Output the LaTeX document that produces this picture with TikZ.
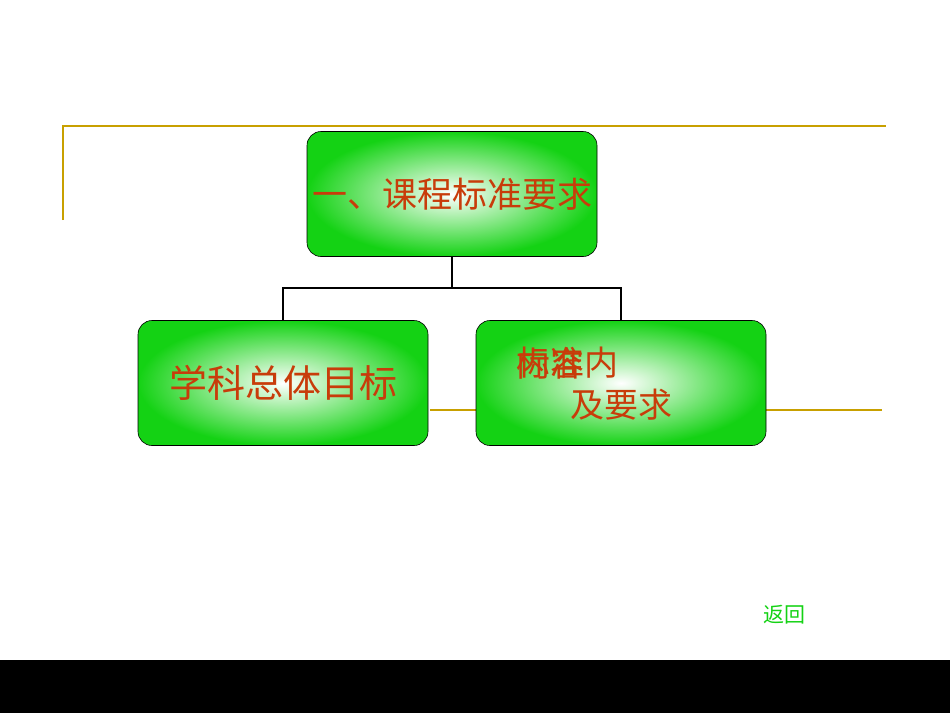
\documentclass[tikz,border=0pt]{standalone}
\usepackage{fontspec}
\newfontfamily\cjk{Noto Sans CJK SC}
\definecolor{gold}{RGB}{200,160,0}
\definecolor{txt}{RGB}{200,60,10}
\definecolor{gr}{RGB}{20,210,20}
\begin{document}
\begin{tikzpicture}[x=1pt,y=-1pt,
  box/.style={draw=black,line width=0.6pt,rounded corners=14pt,minimum width=290pt,minimum height=125pt,inner color=white,outer color=gr,text=txt,align=center,inner sep=0pt},
  rt/.style={text=txt,font=\cjk\fontsize{34}{40}\selectfont,inner sep=0},
  gl/.style={gold,line width=2pt},
  conn/.style={line width=1.8pt}]
\useasboundingbox (0,0) rectangle (950,713);
\fill[black] (0,660) rectangle (950,713);
\draw[gl] (63,220) -- (63,126) -- (886,126);
\draw[gl] (430,410) -- (882,410);
\node[box,font=\cjk\fontsize{35}{40}\selectfont] (top) at (452,194) {一、课程标准要求};
\node[box,font=\cjk\fontsize{38}{40}\selectfont] (l) at (283,383) {学科总体目标};
\node[box] (r) at (621,383) {};
\node[rt,anchor=west] (r1) at (516,363) {内容};
\node[rt,anchor=west] (r2) at (516,363) {标准内};
\node[rt] (r3) at (621,405) {及要求};
\coordinate (m) at (452,288);
\draw[conn] (top.south) -- (m);
\draw[conn] (l.north) |- (m) -| (r.north);
\node[text=gr,font=\cjk\fontsize{21}{24}\selectfont] (back) at (784,615) {返回};
\end{tikzpicture}
\end{document}
